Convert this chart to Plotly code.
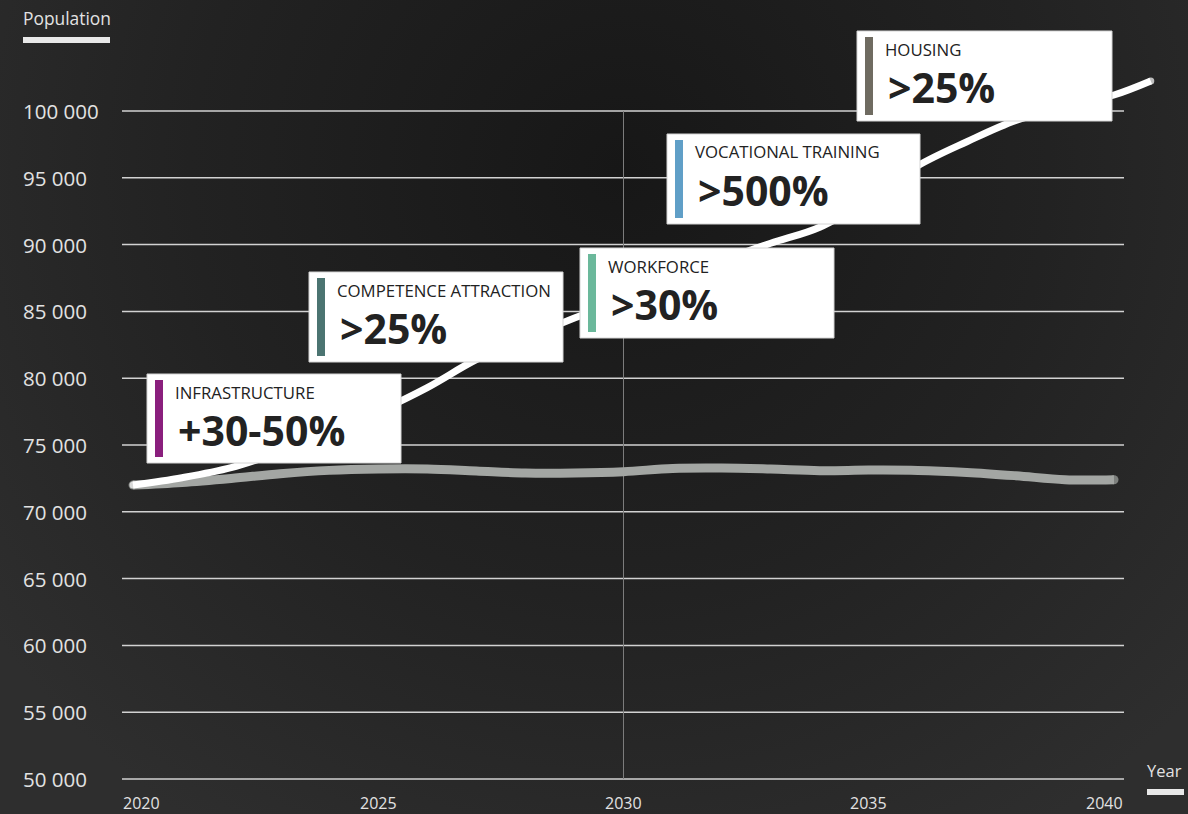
import base64
import plotly.graph_objects as go

# ---------------- data ----------------
years = list(range(2020, 2041))
baseline = [72000, 72200, 72500, 72850, 73100, 73200, 73200, 73050, 72900, 72900,
            73000, 73250, 73280, 73200, 73080, 73120, 73100, 72950, 72700, 72400, 72400]
growth_years = years + [2040.75]
growth = [72000, 72550, 73300, 74500, 75900, 77500, 79300, 81400, 83000, 84500,
          85900, 87300, 88800, 90100, 91300, 93400, 95900, 97700, 99300, 100300, 101200, 102250]
y_ticks = [50000, 55000, 60000, 65000, 70000, 75000, 80000, 85000, 90000, 95000, 100000]
y_tick_labels = ["50 000", "55 000", "60 000", "65 000", "70 000", "75 000",
                 "80 000", "85 000", "90 000", "95 000", "100 000"]
x_ticks = [2020, 2025, 2030, 2035, 2040]
x_tick_labels = ["2020", "2025", "2030", "2035", "2040"]
marker_year = 2030
box_titles = ["INFRASTRUCTURE", "COMPETENCE ATTRACTION", "WORKFORCE", "VOCATIONAL TRAINING", "HOUSING"]
box_values = ["+30-50%", ">25%", ">30%", ">500%", ">25%"]
box_colors = ["#8a1f7d", "#4b7471", "#6bb89b", "#609fc7", "#6f6b61"]

# ---------------- layout geometry (pixels) ----------------
FW, FH = 1188, 814
L, R, T, B = 122, 1188, 30, 799          # plot area (wide, so lines are not clipped)
GRID_R = 1124                             # right end of the grid lines
W, H = R - L, B - T

# pixel anchors of the axes
X0_PX, X_PER_YEAR = 133.0, 49.05          # 2020 at 133 px
Y100K_PX, Y_PER_UNIT = 111.0, 668.0 / 50000.0

x_range = [2020 + (L - X0_PX) / X_PER_YEAR, 2020 + (R - X0_PX) / X_PER_YEAR]
y_range = [100000 - (B - Y100K_PX) / Y_PER_UNIT, 100000 + (Y100K_PX - T) / Y_PER_UNIT]


def px(x):
    return (x - L) / W


def py(y):
    return (B - y) / H


# box rectangles: (x0, y0, x1, y1) in pixels
box_rects = [(147, 374, 401, 463), (309, 272, 563, 362), (580, 248, 834, 338),
             (667, 134, 920, 224), (857, 31, 1112, 121)]

fig = go.Figure()

n = len(baseline)
fig.add_trace(go.Scatter(
    x=years, y=baseline, mode="lines+markers",
    line=dict(color="#a3a6a3", width=9, shape="spline", smoothing=1),
    marker=dict(size=[9] + [0] * (n - 2) + [9], color="#a3a6a3", line=dict(width=0)),
    hoverinfo="skip", showlegend=False))

m = len(growth)
fig.add_trace(go.Scatter(
    x=growth_years, y=growth, mode="lines+markers",
    line=dict(color="#ffffff", width=7, shape="spline", smoothing=1),
    marker=dict(size=[7] + [0] * (m - 2) + [7], color="#ffffff", line=dict(width=0)),
    hoverinfo="skip", showlegend=False))

shapes = []
# horizontal grid lines
for v in y_ticks:
    shapes.append(dict(type="line", xref="paper", yref="y", x0=0, x1=px(GRID_R),
                       y0=v, y1=v, line=dict(color="#d2d2d2", width=1.5), layer="below"))
# vertical marker line at 2030
shapes.append(dict(type="line", xref="x", yref="y", x0=marker_year, x1=marker_year,
                   y0=y_ticks[0], y1=y_ticks[-1], line=dict(color="#7c7c7c", width=1),
                   layer="below"))
# axis title underline bars
shapes.append(dict(type="rect", xref="paper", yref="paper", x0=px(23), x1=px(110),
                   y0=py(43), y1=py(37), fillcolor="#e8e8e8", line=dict(width=0)))
shapes.append(dict(type="rect", xref="paper", yref="paper", x0=px(1147), x1=px(1184),
                   y0=py(795), y1=py(789), fillcolor="#e8e8e8", line=dict(width=0)))

annotations = []
for (x0, y0, x1, y1), title, val, col in zip(box_rects, box_titles, box_values, box_colors):
    shapes.append(dict(type="rect", xref="paper", yref="paper", x0=px(x0), x1=px(x1),
                       y0=py(y1), y1=py(y0), fillcolor="#ffffff",
                       line=dict(color="#d4d4d4", width=1), layer="above"))
    shapes.append(dict(type="rect", xref="paper", yref="paper", x0=px(x0 + 8), x1=px(x0 + 16),
                       y0=py(y1 - 6), y1=py(y0 + 6), fillcolor=col,
                       line=dict(width=0), layer="above"))
    annotations.append(dict(xref="paper", yref="paper", x=px(x0 + 26), y=py(y0 + 18),
                            xanchor="left", yanchor="middle", showarrow=False,
                            text=title, font=dict(family="Open Sans", size=16.8, color="#222222")))
    annotations.append(dict(xref="paper", yref="paper", x=px(x0 + 29), y=py(y0 + 56),
                            xanchor="left", yanchor="middle", showarrow=False,
                            text="<b>" + val + "</b>",
                            font=dict(family="Open Sans", size=41, color="#222222")))

# y tick labels (left aligned)
for v, lab in zip(y_ticks, y_tick_labels):
    annotations.append(dict(xref="paper", yref="y", x=px(21), y=v, xanchor="left",
                            yanchor="middle", showarrow=False, text=lab,
                            font=dict(family="Open Sans", size=20.5, color="#e2e2e2")))
# x tick labels
for i, (v, lab) in enumerate(zip(x_ticks, x_tick_labels)):
    if i == 0:
        a = dict(xref="paper", x=px(121), xanchor="left")
    elif i == len(x_ticks) - 1:
        a = dict(xref="paper", x=px(1125), xanchor="right")
    else:
        a = dict(xref="x", x=v, xanchor="center")
    a.update(yref="paper", y=py(803), yanchor="middle", showarrow=False, text=lab,
             font=dict(family="Open Sans", size=16, color="#e2e2e2"))
    annotations.append(a)

annotations.append(dict(xref="paper", yref="paper", x=px(21), y=py(18), xanchor="left",
                        yanchor="middle", showarrow=False, text="Population",
                        font=dict(family="Open Sans", size=17.4, color="#e2e2e2")))
annotations.append(dict(xref="paper", yref="paper", x=px(1145), y=py(770), xanchor="left",
                        yanchor="middle", showarrow=False, text="Year",
                        font=dict(family="Open Sans", size=16.5, color="#e2e2e2")))

svg = ('<svg xmlns="http://www.w3.org/2000/svg" width="1188" height="814">'
       '<defs><radialGradient id="g" gradientUnits="userSpaceOnUse" cx="620" cy="170" r="780">'
       '<stop offset="0" stop-color="#171717"/><stop offset="0.55" stop-color="#222222"/>'
       '<stop offset="1" stop-color="#2e2e2e"/></radialGradient></defs>'
       '<rect width="1188" height="814" fill="url(#g)"/></svg>')
bg = "data:image/svg+xml;base64," + base64.b64encode(svg.encode()).decode()

fig.update_layout(
    width=FW, height=FH,
    margin=dict(l=L, r=FW - R, t=T, b=FH - B, pad=0),
    paper_bgcolor="#262626", plot_bgcolor="rgba(0,0,0,0)",
    xaxis=dict(range=x_range, showgrid=False, zeroline=False,
               showticklabels=False, showline=False, fixedrange=True),
    yaxis=dict(range=y_range, showgrid=False, zeroline=False,
               showticklabels=False, showline=False, fixedrange=True),
    shapes=shapes, annotations=annotations,
    images=[dict(source=bg, xref="paper", yref="paper", x=px(0), y=py(0),
                 sizex=FW / W, sizey=FH / H, xanchor="left", yanchor="top",
                 sizing="stretch", layer="below")],
    showlegend=False,
)

fig.write_html("out.html", config={"displayModeBar": False},
               post_script="document.body.style.margin='0';")
